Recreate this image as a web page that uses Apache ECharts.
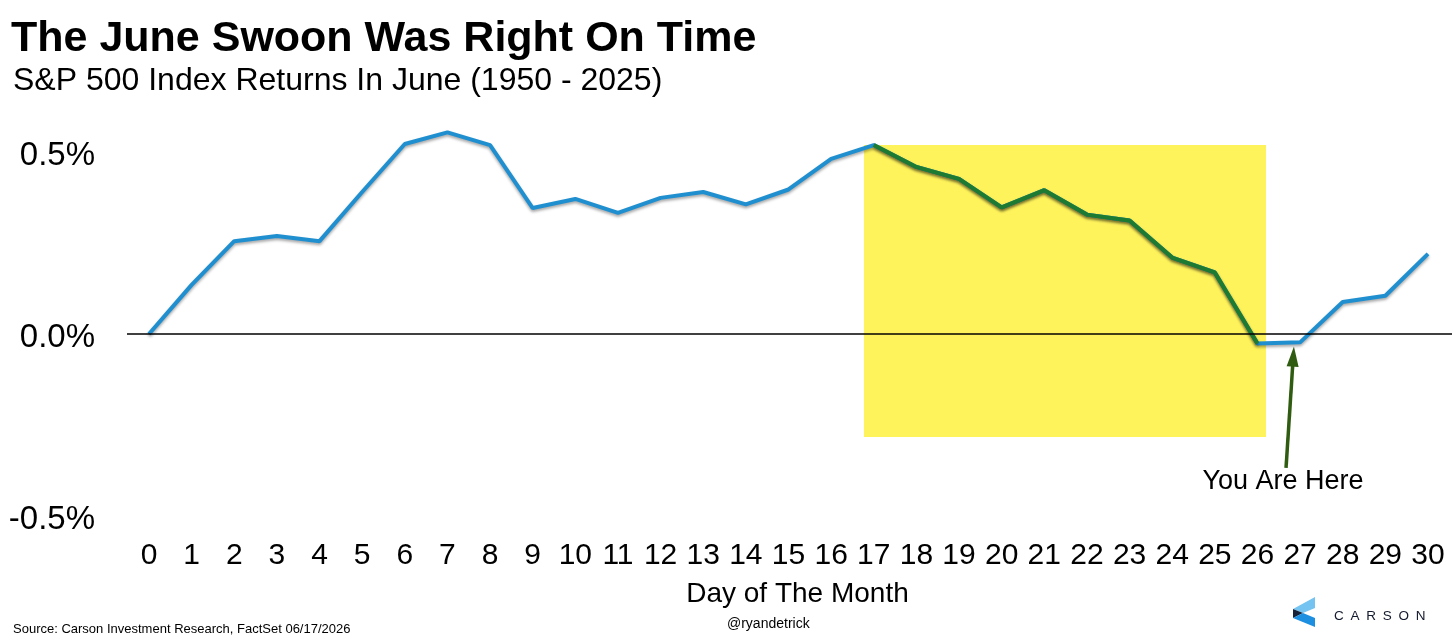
<!DOCTYPE html>
<html>
<head>
<meta charset="utf-8">
<script src="https://cdn.jsdelivr.net/npm/echarts@6/dist/echarts.min.js"></script>
<style>
  html, body { margin: 0; padding: 0; background: #fff; }
  #chart { width: 1456px; height: 640px; }
</style>
</head>
<body>
<div id="chart"></div>
<script>
// day of June (trading day) and average cumulative return, %
const days = [0, 1, 2, 3, 4, 5, 6, 7, 8, 9, 10, 11, 12, 13, 14, 15, 16, 17, 18, 19, 20, 21, 22, 23, 24, 25, 26, 27, 28, 29, 30];
const returns = [0, 0.135, 0.255, 0.269, 0.255, 0.39, 0.522, 0.554, 0.519, 0.346, 0.371, 0.333, 0.374, 0.39, 0.356, 0.397,
  0.481, 0.519, 0.459, 0.426, 0.348, 0.395, 0.328, 0.312, 0.21, 0.169, -0.026, -0.023, 0.088, 0.105, 0.22];
const yTicks = [-0.5, 0, 0.5];

// the swoon: days 17 through 26
const swoonStart = 17;
const swoonEnd = 26;
const boxBottom = -0.283;

// "you are here" arrow, in data units
const arrowFrom = [26.67, -0.368];
const arrowTo = [26.84, -0.062];

const chart = echarts.init(document.getElementById('chart'));

const FONT = '"Liberation Sans", Arial, sans-serif';
const blueLine = days.map((d, i) => [d, returns[i]]);
const greenLine = days.map((d, i) => (d >= swoonStart && d <= swoonEnd ? [d, returns[i]] : [d, null]));
const lineShadow = { shadowColor: 'rgba(0,0,0,0.35)', shadowBlur: 3, shadowOffsetY: 2 };

const option = {
  backgroundColor: '#fff',
  animation: false,
  textStyle: { fontFamily: FONT, color: '#000' },
  title: [
    { text: 'The June Swoon Was Right On Time', left: 6, top: 13,
      textStyle: { fontSize: 43, fontWeight: 'bold', color: '#000', fontFamily: FONT } },
    { text: 'S&P 500 Index Returns In June (1950 - 2025)', left: 8, top: 60,
      textStyle: { fontSize: 32, fontWeight: 'normal', color: '#000', fontFamily: FONT } },
    { text: 'Source: Carson Investment Research, FactSet 06/17/2026', left: 8, top: 618,
      textStyle: { fontSize: 13, fontWeight: 'normal', color: '#000', fontFamily: FONT } },
    { text: '@ryandetrick', left: 722, top: 612,
      textStyle: { fontSize: 14, fontWeight: 'normal', color: '#000', fontFamily: FONT } },
    { text: 'C\u2002A\u2002R\u2002S\u2002O\u2002N', left: 1329, top: 604,
      textStyle: { fontSize: 13.5, fontWeight: 'normal', color: '#141a2e', fontFamily: FONT } }
  ],
  grid: { left: 127, right: 4, top: 115.6, bottom: 124 },
  xAxis: {
    type: 'value',
    min: -0.516,
    max: 30.563,
    axisLine: { show: false },
    axisTick: { show: false },
    splitLine: { show: false },
    axisLabel: { customValues: days, fontSize: 30, color: '#000', margin: 25, fontFamily: FONT },
    name: 'Day of The Month',
    nameLocation: 'middle',
    nameGap: 64,
    nameTextStyle: { fontSize: 28, color: '#000', fontFamily: FONT, padding: [0, 0, 0, 16] }
  },
  yAxis: {
    type: 'value',
    min: -0.5,
    max: 0.6,
    axisLine: { show: false },
    axisTick: { show: false },
    splitLine: { show: false },
    axisLabel: {
      customValues: yTicks,
      color: '#000',
      margin: 32,
      formatter: v => '{t|' + v.toFixed(1) + '%}',
      rich: { t: { fontSize: 33, color: '#000', fontFamily: FONT, padding: [8, 0, 0, 0] } }
    }
  },
  series: [
    {
      // highlight box
      type: 'line',
      data: [],
      z: 1,
      markArea: {
        silent: true,
        itemStyle: { color: '#fff35c' },
        data: [[{ xAxis: swoonStart - 0.23, yAxis: returns[swoonStart] }, { xAxis: swoonEnd + 0.2, yAxis: boxBottom }]]
      }
    },
    {
      // zero line
      type: 'line',
      data: [],
      z: 2,
      markLine: {
        silent: true,
        symbol: 'none',
        label: { show: false },
        lineStyle: { color: '#000', width: 1.5, type: 'solid' },
        data: [{ yAxis: 0 }]
      }
    },
    {
      name: 'June',
      type: 'line',
      data: blueLine,
      z: 3,
      symbol: 'none',
      lineStyle: Object.assign({ color: '#1f8fd0', width: 4 }, lineShadow)
    },
    {
      name: 'Swoon',
      type: 'line',
      data: greenLine,
      z: 4,
      symbol: 'none',
      connectNulls: false,
      lineStyle: Object.assign({ color: '#1c7b31', width: 4 }, lineShadow)
    },
    {
      type: 'line',
      data: [],
      z: 5,
      markLine: {
        silent: true,
        symbol: ['none', 'triangle'],
        symbolSize: [12, 20],
        label: { show: false },
        lineStyle: { color: '#2f5c10', width: 3.5, type: 'solid' },
        data: [[{ coord: arrowFrom }, { coord: arrowTo }]]
      },
      markPoint: {
        silent: true,
        symbol: 'rect',
        symbolSize: 1,
        itemStyle: { color: 'rgba(0,0,0,0)' },
        label: { show: true, position: 'inside', formatter: 'You Are Here', fontSize: 27, color: '#000', fontFamily: FONT },
        data: [{ coord: [26.6, -0.406] }]
      }
    }
  ],
  graphic: [
    {
      // Carson logo mark
      type: 'group',
      left: 1293,
      top: 597,
      children: [
        { type: 'polygon', shape: { points: [[0, 12], [22, 0], [22, 11], [10, 16]] }, style: { fill: '#74c3f1' } },
        { type: 'polygon', shape: { points: [[0, 12], [10, 16], [0, 21]] }, style: { fill: '#16223a' } },
        { type: 'polygon', shape: { points: [[10, 16], [22, 21], [22, 30], [0, 21]] }, style: { fill: '#1d8fe0' } }
      ]
    }
  ]
};

chart.setOption(option);
</script>
</body>
</html>
